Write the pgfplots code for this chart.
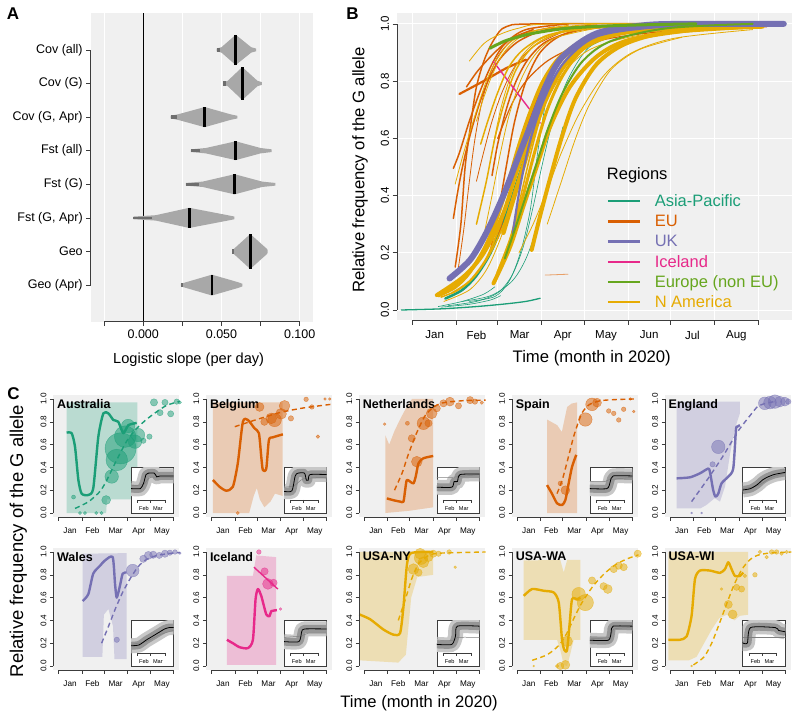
\documentclass[border=0pt]{standalone}
\usepackage{pgfplots}
\pgfplotsset{compat=1.18}
\usepackage{fontspec}
\setmainfont{Liberation Sans}
\definecolor{bgc}{RGB}{240,240,240}
\definecolor{cT}{HTML}{1B9E77}
\definecolor{cO}{HTML}{D95F02}
\definecolor{cU}{HTML}{7570B3}
\definecolor{cP}{HTML}{E7298A}
\definecolor{cG}{HTML}{66A61E}
\definecolor{cY}{HTML}{E6AB02}
\definecolor{vio}{RGB}{168,168,168}
\definecolor{viod}{RGB}{110,110,110}
\definecolor{axc}{RGB}{60,60,60}
\definecolor{bandl}{RGB}{200,200,200}
\definecolor{bandd}{RGB}{150,150,150}

\pgfplotsset{
  Rax/.style={scale only axis, clip=false, anchor=south west,
    axis background/.style={fill=bgc},
    axis x line=bottom, axis y line=left, axis line style={draw=none},
    tick align=outside, tick style={axc, line width=0.6pt},
    /pgf/number format/assume math mode=true},
  Bl/.style={forget plot, smooth, tension=0.5, line cap=round, line join=round},
  Cax/.style={Rax, width=126pt, height=122pt, xmin=-6.5, xmax=159.5, ymin=-0.035, ymax=1.035,
    xtick={0,31,60,91,121,152}, xticklabels={,,,,,},
    extra x ticks={15.5,45,75.5,106,136.5}, extra x tick labels={Jan,Feb,Mar,Apr,May},
    extra x tick style={major tick style={draw=none}},
    ytick={0,0.2,0.4,0.6,0.8,1}, yticklabels={0.0,0.2,0.4,0.6,0.8,1.0},
    yticklabel style={rotate=90, anchor=south},
    xticklabel style={yshift=-4pt},
    major tick length=3.5pt, tick style={axc, line width=0.5pt},
    tick label style={font=\fontsize{8.2}{10}\selectfont}},
  insetax/.style={scale only axis, anchor=south west, width=42.6pt, height=46pt,
    xmin=18, xmax=109.5, ymin=-0.571, ymax=1.07,
    axis background/.style={fill=white}, axis line style={draw=axc, line width=0.5pt},
    xtick=\empty, ytick=\empty},
  shade/.style={draw=none, fill opacity=0.25},
  sol/.style={line width=2.4pt, smooth, tension=0.4, line join=round},
  dsh/.style={line width=1.4pt, smooth, tension=0.4, dash pattern=on 5pt off 3.5pt},
  bub/.style={only marks, mark=*, scatter, scatter/use mapped color={draw=#1, fill=#1},
    fill opacity=0.5, draw opacity=0.6,
    visualization depends on={\thisrow{r} \as \rr},
    scatter/@pre marker code/.append style={/tikz/mark size=1.35*\rr}},
}
\newcommand{\Clines}{%
  \draw[axc, line width=0.5pt] (axis cs:0,-0.035) -- (axis cs:152,-0.035);
  \draw[axc, line width=0.5pt] (axis cs:-6.5,0) -- (axis cs:-6.5,1);}
\newcommand{\Ctitle}[1]{\node[anchor=north west, inner sep=0pt, font=\bfseries\fontsize{12.5}{14}\selectfont] at ([xshift=3.5pt,yshift=-4pt]rel axis cs:0,1) {#1};}
\newcommand{\Inset}[3]{%
\begin{axis}[insetax, at={#1}]
\addplot[bandl, line width=15pt, smooth, tension=0.4, line join=round] coordinates {#2};
\addplot[bandd, line width=8pt, smooth, tension=0.4, line join=round] coordinates {#2};
\addplot[gray, line width=0.5pt, smooth, tension=0.4] coordinates {#3};
\addplot[black, line width=0.8pt, smooth, tension=0.4] coordinates {#2};
\draw[axc, line width=0.4pt] (axis cs:31,-0.1) -- (axis cs:91,-0.1);
\draw[axc, line width=0.4pt] (axis cs:31,-0.1) -- (axis cs:31,-0.2);
\draw[axc, line width=0.4pt] (axis cs:60,-0.1) -- (axis cs:60,-0.2);
\draw[axc, line width=0.4pt] (axis cs:91,-0.1) -- (axis cs:91,-0.2);
\node[font=\fontsize{5.6}{6}\selectfont, inner sep=0pt] at (axis cs:45.5,-0.4) {Feb};
\node[font=\fontsize{5.6}{6}\selectfont, inner sep=0pt] at (axis cs:75.5,-0.4) {Mar};
\end{axis}}

\begin{document}
\begin{tikzpicture}
% ================= PANEL A =================
\begin{axis}[Rax, at={(90.7pt,-321.7pt)}, width=222.6pt, height=308.4pt,
  xmin=-0.0336, xmax=0.1087, ymin=-0.09, ymax=9.09,
  xtick={-0.025,0,0.025,0.05,0.075,0.1}, xticklabels={,0.000,,0.050,,0.100},
  ytick={1,2,3,4,5,6,7,8},
  yticklabels={Geo (Apr),Geo,{Fst (G, Apr)},Fst (G),Fst (all),{Cov (G, Apr)},Cov (G),Cov (all)},
  major tick length=4.5pt,
  xmajorgrids, major grid style={white, line width=0.9pt},
  tick label style={font=\fontsize{12.5}{15}\selectfont},
  xlabel={Logistic slope (per day)},
  xlabel style={font=\fontsize{14.6}{17}\selectfont, at={(axis description cs:0.44,-0.124)}, anchor=center}]
\addplot[black, line width=0.8pt] coordinates {(0,-0.09) (0,9.09)};
% violins
\addplot[fill=vio, draw=none] coordinates {(0.0469,7.96) (0.050,7.92) (0.0591,7.55) (0.069,7.92) (0.0721,7.96) (0.0721,8.04) (0.069,8.08) (0.0591,8.45) (0.050,8.08) (0.0469,8.04)} -- cycle;
\addplot[fill=vio, draw=none] coordinates {(0.0512,6.96) (0.054,6.92) (0.0633,6.51) (0.073,6.92) (0.0759,6.96) (0.0759,7.04) (0.073,7.08) (0.0633,7.49) (0.054,7.08) (0.0512,7.04)} -- cycle;
\addplot[fill=vio, draw=none] coordinates {(0.0175,5.96) (0.022,5.92) (0.0393,5.70) (0.056,5.92) (0.0601,5.96) (0.0601,6.04) (0.056,6.08) (0.0393,6.30) (0.022,6.08) (0.0175,6.04)} -- cycle;
\addplot[fill=vio, draw=none] coordinates {(0.0305,4.96) (0.040,4.92) (0.0591,4.72) (0.075,4.92) (0.0821,4.96) (0.0821,5.04) (0.075,5.08) (0.0591,5.28) (0.040,5.08) (0.0305,5.04)} -- cycle;
\addplot[fill=vio, draw=none] coordinates {(0.0273,3.96) (0.038,3.92) (0.0584,3.70) (0.076,3.92) (0.0844,3.96) (0.0844,4.04) (0.076,4.08) (0.0584,4.30) (0.038,4.08) (0.0273,4.04)} -- cycle;
\addplot[fill=vio, draw=none] coordinates {(-0.0064,2.96) (0.008,2.92) (0.0294,2.70) (0.054,2.92) (0.0582,2.96) (0.0582,3.04) (0.054,3.08) (0.0294,3.30) (0.008,3.08) (-0.0064,3.04)} -- cycle;
\addplot[fill=vio, draw=none] coordinates {(0.0569,1.96) (0.058,1.92) (0.0684,1.48) (0.079,1.92) (0.0795,1.96) (0.0795,2.04) (0.079,2.08) (0.0684,2.52) (0.058,2.08) (0.0569,2.04)} -- cycle;
\addplot[fill=vio, draw=none] coordinates {(0.0241,0.96) (0.027,0.92) (0.0439,0.69) (0.061,0.92) (0.0633,0.96) (0.0633,1.04) (0.061,1.08) (0.0439,1.31) (0.027,1.08) (0.0241,1.04)} -- cycle;
% dark tails
\addplot[fill=viod, draw=none] coordinates {(0.0469,7.94) (0.0490,7.94) (0.0490,8.06) (0.0469,8.06)} -- cycle;
\addplot[fill=viod, draw=none] coordinates {(0.0512,6.94) (0.0532,6.94) (0.0532,7.06) (0.0512,7.06)} -- cycle;
\addplot[fill=viod, draw=none] coordinates {(0.0175,5.94) (0.0213,5.94) (0.0213,6.06) (0.0175,6.06)} -- cycle;
\addplot[fill=viod, draw=none] coordinates {(0.0305,4.95) (0.0363,4.95) (0.0363,5.05) (0.0305,5.05)} -- cycle;
\addplot[fill=viod, draw=none] coordinates {(0.0273,3.96) (0.0356,3.96) (0.0356,4.04) (0.0273,4.04)} -- cycle;
\addplot[fill=viod, draw=none] coordinates {(-0.0064,2.97) (0.0053,2.97) (0.0053,3.03) (-0.0064,3.03)} -- cycle;
\addplot[fill=viod, draw=none] coordinates {(0.0569,1.94) (0.0579,1.94) (0.0579,2.06) (0.0569,2.06)} -- cycle;
\addplot[fill=viod, draw=none] coordinates {(0.0241,0.95) (0.0251,0.95) (0.0251,1.05) (0.0241,1.05)} -- cycle;
% medians
\addplot[black, line width=2.6pt] coordinates {(0.0591,7.55) (0.0591,8.45)};
\addplot[black, line width=2.6pt] coordinates {(0.0633,6.51) (0.0633,7.49)};
\addplot[black, line width=2.6pt] coordinates {(0.0393,5.70) (0.0393,6.30)};
\addplot[black, line width=2.6pt] coordinates {(0.0591,4.72) (0.0591,5.28)};
\addplot[black, line width=2.6pt] coordinates {(0.0584,3.70) (0.0584,4.30)};
\addplot[black, line width=2.6pt] coordinates {(0.0294,2.70) (0.0294,3.30)};
\addplot[black, line width=2.6pt] coordinates {(0.0684,1.48) (0.0684,2.52)};
\addplot[black, line width=2.6pt] coordinates {(0.0439,0.69) (0.0439,1.31)};
\draw[axc, line width=0.6pt] (axis cs:-0.025,-0.09) -- (axis cs:0.1,-0.09);
\draw[axc, line width=0.6pt] (axis cs:-0.0336,1) -- (axis cs:-0.0336,8);
\end{axis}

% ================= PANEL B =================
\begin{axis}[Rax, at={(397pt,-320pt)}, width=395pt, height=307pt,
  xmin=-11.1, xmax=267.8, ymin=-0.035, ymax=1.038,
  xtick={0,31,60,91,121,152,182,213,244}, xticklabels={,,,,,,,,},
  extra x ticks={15.5,45,75.5,106,136.5,167,197.5,228.5},
  extra x tick labels={Jan,Feb,Mar,Apr,May,Jun,Jul,Aug},
  extra x tick style={major tick style={draw=none}, grid=none},
  ytick={0,0.2,0.4,0.6,0.8,1}, yticklabels={0.0,0.2,0.4,0.6,0.8,1.0},
  yticklabel style={rotate=90, anchor=south},
  xticklabel style={yshift=-3pt},
  grid=major, major grid style={white, line width=0.9pt},
  major tick length=4.5pt,
  tick label style={font=\fontsize{11.5}{14}\selectfont},
  xlabel={Time (month in 2020)}, ylabel={Relative frequency of the G allele},
  xlabel style={font=\fontsize{16.7}{20}\selectfont, at={(axis description cs:0.493,-0.1248)}, anchor=center},
  ylabel style={font=\fontsize{16.7}{20}\selectfont, at={(axis description cs:-0.0937,0.4886)}, anchor=center},
  legend style={draw=none, fill=none, at={(axis description cs:0.531,0.409)}, anchor=north west,
    inner sep=0pt, outer sep=0pt, row sep=6.7pt, font=\fontsize{16.5}{19}\selectfont,
    nodes={inner sep=0pt},
    /tikz/every even column/.append style={text height=12pt, text depth=3.5pt},
    /tikz/every odd column/.append style={column sep=14pt}},
  legend cell align=left,
  legend image code/.code={\draw[#1] (0pt,0pt) -- (31.6pt,0pt);}]
% Asia-Pacific
\addplot[Bl, cT, line width=1.3pt] coordinates {(-8,0.0) (20,0.004) (45,0.012) (65,0.021) (80,0.03) (90,0.041)};
\addplot[Bl, cT, line width=0.6pt] coordinates {(35,0.03) (55,0.05) (70,0.1) (80,0.18) (90,0.32) (98,0.47) (106,0.64)};
\addplot[Bl, cT, line width=0.6pt] coordinates {(40,0.03) (58,0.047) (68,0.1) (76,0.2) (83,0.35) (88.5,0.56) (95,0.75) (105,0.88) (125,0.96) (160,0.99)};
\addplot[Bl, cT, line width=0.6pt] coordinates {(18,0.012) (35,0.03) (50,0.055) (58,0.081)};
\addplot[Bl, cT, line width=0.6pt] coordinates {(20,0.01) (40,0.02) (55,0.035) (62,0.05)};
\addplot[Bl, cT, line width=0.6pt] coordinates {(25,0.015) (45,0.03) (60,0.06) (70,0.12) (78,0.22) (85,0.36) (92,0.52) (100,0.68) (110,0.81) (125,0.92) (150,0.97)};
\addplot[Bl, cT, line width=2.5pt] coordinates {(23,0.04) (35,0.07) (45,0.12) (55,0.2) (65,0.32) (75,0.47) (85,0.62) (95,0.75) (110,0.87) (130,0.94) (170,0.985) (263,1.0)};
% EU
\addplot[Bl, cO, line width=1.5pt] coordinates {(30,0.15) (34,0.3) (37,0.5) (41,0.65) (45,0.78) (51,0.88) (58,0.95) (66,0.99) (90,1.0) (250,1.0)};
\addplot[Bl, cO, line width=1.5pt] coordinates {(28.7,0.32) (32,0.42) (36,0.52) (41,0.62) (47,0.72) (54,0.81) (62,0.88) (75,0.94) (95,0.98) (130,0.995)};
\addplot[Bl, cO, line width=2.2pt] coordinates {(33,0.755) (50,0.80) (66,0.845) (80,0.875)};
\addplot[Bl, cO, line width=1.5pt] coordinates {(28.7,0.495) (33,0.55) (40,0.66) (48,0.77) (56,0.86) (65,0.93) (80,0.98) (110,1.0)};
\addplot[Bl, cO, line width=1.5pt] coordinates {(55,0.21) (60,0.33) (66,0.5) (72,0.66) (80,0.8) (90,0.9) (105,0.96) (130,0.99) (170,1.0)};
\addplot[Bl, cO, line width=1.5pt] coordinates {(56,0.47) (60,0.58) (66,0.7) (73,0.8) (82,0.88) (95,0.94) (120,0.98) (160,0.995)};
\addplot[Bl, cO!60, line width=0.8pt] coordinates {(93.5,0.122) (109.6,0.125)};
\addplot[Bl, cO, line width=1.5pt] coordinates {(60,0.25) (68,0.4) (76,0.56) (85,0.7) (95,0.81) (110,0.9) (140,0.96) (200,0.985) (240,0.99)};
\addplot[Bl, cO, line width=1.2pt] coordinates {(60,0.6) (70,0.72) (80,0.8) (95,0.87) (115,0.92) (140,0.95) (170,0.97) (210,0.985) (250,0.99)};
\addplot[Bl, cO, line width=0.8pt] coordinates {(32,0.14) (36,0.28) (40,0.45) (44,0.6) (49,0.73) (55,0.83) (62,0.9) (75,0.96) (100,0.99)};
\addplot[Bl, cO, line width=0.8pt] coordinates {(45,0.45) (50,0.55) (56,0.66) (63,0.76) (72,0.85) (85,0.92) (105,0.97)};
\addplot[Bl, cO, line width=1.5pt] coordinates {(38,0.78) (45,0.83) (52,0.87) (60,0.91) (70,0.95) (85,0.98)};
% Iceland
\addplot[Bl, cP, line width=1.4pt] coordinates {(57,0.868) (90,0.653)};
% N America
\addplot[Bl, cY, line width=4pt] coordinates {(17,0.052) (36,0.117) (50,0.198) (64,0.338) (73,0.478) (83,0.618) (95,0.758) (111,0.886) (130,0.95) (177,0.988) (247,0.998)};
\addplot[Bl, cY, line width=4pt] coordinates {(57,0.093) (68.7,0.22) (78,0.36) (87.5,0.5) (97,0.64) (111,0.78) (130,0.886) (153,0.944) (200,0.98) (247,0.99)};
\addplot[Bl, cY, line width=4pt] coordinates {(84,0.21) (90,0.33) (97,0.46) (105,0.6) (115,0.74) (130,0.86) (150,0.93) (180,0.97) (240,0.99)};
\addplot[Bl, cY, line width=0.8pt] coordinates {(95,0.3) (105,0.45) (115,0.6) (125,0.72) (140,0.84) (160,0.91) (190,0.953)};
\addplot[Bl, cY, line width=0.8pt] coordinates {(30,0.44) (36,0.55) (44,0.68) (52,0.8) (60,0.88) (70,0.94) (90,0.98) (130,1.0)};
\addplot[Bl, cY, line width=1.5pt] coordinates {(58,0.094) (66,0.2) (74,0.35) (82,0.52) (90,0.67) (100,0.8) (115,0.9) (140,0.96) (190,0.99)};
\addplot[Bl, cY, line width=3.5pt] coordinates {(18,0.05) (30,0.08) (40,0.13) (50,0.21) (58,0.3) (66,0.42) (74,0.56) (82,0.68) (92,0.8) (105,0.89) (125,0.95) (160,0.985) (250,1.0)};
\addplot[Bl, cY, line width=0.8pt] coordinates {(22,0.03) (40,0.07) (52,0.14) (62,0.25) (72,0.4) (82,0.56) (92,0.7) (105,0.82) (125,0.91) (160,0.96) (220,0.985)};
\addplot[Bl, cY, line width=0.8pt] coordinates {(57,0.58) (62,0.7) (68,0.8) (76,0.88) (88,0.94) (110,0.98) (150,0.995)};
\addplot[Bl, cY, line width=1.5pt] coordinates {(45,0.3) (52,0.45) (58,0.6) (65,0.73) (73,0.84) (85,0.92) (105,0.97) (150,0.995)};
\addplot[Bl, cY, line width=0.8pt] coordinates {(75,0.2) (85,0.3) (95,0.42) (105,0.55) (118,0.69) (135,0.82) (155,0.9) (185,0.95) (240,0.98)};
\addplot[Bl, cY, line width=2pt] coordinates {(28,0.06) (40,0.1) (52,0.18) (62,0.3) (70,0.43) (78,0.56) (86,0.68) (96,0.8) (110,0.9) (130,0.95) (170,0.985) (240,0.995)};
\addplot[Bl, cY, line width=4.5pt] coordinates {(64,0.27) (70,0.37) (78,0.5) (86,0.63) (96,0.76) (108,0.86) (125,0.93) (150,0.97) (200,0.99) (255,1.0)};
\addplot[Bl, cY, line width=0.8pt] coordinates {(51,0.28) (56,0.4) (62,0.55) (68,0.68) (76,0.8) (86,0.89) (100,0.95) (130,0.985)};
\addplot[Bl, cY, line width=0.8pt] coordinates {(45,0.66) (50,0.74) (56,0.82) (63,0.89) (72,0.94) (85,0.975) (110,0.995)};
\addplot[Bl, cY, line width=0.8pt] coordinates {(40,0.87) (50,0.93) (60,0.96) (75,0.985) (100,1.0) (240,1.0)};
\addplot[Bl, cY, line width=3pt] coordinates {(60,0.13) (70,0.26) (78,0.4) (86,0.55) (95,0.7) (106,0.82) (120,0.91) (140,0.96) (180,0.985) (245,0.995)};
\addplot[Bl, cY, line width=1.5pt] coordinates {(48,0.58) (53,0.66) (60,0.76) (68,0.85) (78,0.91) (95,0.96) (125,0.99)};
\addplot[Bl, cY, line width=1.5pt] coordinates {(20,0.045) (32,0.07) (44,0.12) (55,0.2) (65,0.31) (74,0.45) (82,0.58) (92,0.72) (104,0.84) (120,0.92) (150,0.97) (200,0.99)};
\addplot[Bl, cY, line width=4pt] coordinates {(200,0.995) (262,1.0)};
% UK
\addplot[Bl, cU, line width=6pt] coordinates {(26,0.11) (40.5,0.175) (52,0.27) (64,0.40) (73.4,0.52) (82.8,0.64) (94.6,0.79) (106,0.886) (130,0.967) (165,0.996) (200,1.0) (262,1.0)};
\addplot[Bl, cU, line width=2.2pt] coordinates {(70.6,0.268) (75.8,0.43) (82.8,0.59) (92.2,0.73) (106,0.86) (130,0.956) (177,0.99) (247,1.0)};
% Europe non EU
\addplot[Bl, cG, line width=3pt] coordinates {(54.6,0.915) (65,0.94) (75,0.955) (86,0.968) (110,0.985) (150,0.995) (200,1.0)};
\addplot[Bl, cG, line width=2pt] coordinates {(65,0.18) (72,0.28) (80,0.4) (88,0.52) (96,0.64) (106,0.76) (120,0.87) (140,0.94) (180,0.985) (240,1.0)};
% legend
\addlegendimage{cT, line width=2.4pt}\addlegendentry{\textcolor{cT}{Asia-Pacific}}
\addlegendimage{cO, line width=2.4pt}\addlegendentry{\textcolor{cO}{EU}}
\addlegendimage{cU, line width=2.4pt}\addlegendentry{\textcolor{cU}{UK}}
\addlegendimage{cP, line width=2.4pt}\addlegendentry{\textcolor{cP}{Iceland}}
\addlegendimage{cG, line width=2.4pt}\addlegendentry{\textcolor{cG}{Europe (non EU)}}
\addlegendimage{cY, line width=2.4pt}\addlegendentry{\textcolor{cY}{N America}}
\node[anchor=west, inner sep=0pt, font=\fontsize{16.5}{19}\selectfont] at (axis description cs:0.531,0.4715) {Regions};
\draw[axc, line width=0.6pt] (axis cs:0,-0.035) -- (axis cs:244,-0.035);
\draw[axc, line width=0.6pt] (axis cs:-11.1,0) -- (axis cs:-11.1,1);
\end{axis}

% ================= PANEL C, row 1 =================
% Australia
\begin{axis}[Cax, at={(53.4pt,-517pt)}]
\addplot[shade, fill=cT] coordinates {(11,0.97) (104,0.97) (104,0.12) (64,0.12) (63,0.0) (11,0.0)} -- cycle;
\addplot[sol, cT] coordinates {(11,0.705) (17.6,0.699) (22,0.58) (26.4,0.29) (30.7,0.17) (39.5,0.158) (46,0.216) (52.7,0.67) (59.3,0.874) (65.9,0.874) (72.5,0.816) (79,0.80) (85.6,0.70) (92.2,0.77) (103.2,0.79)};
\addplot[dsh, cT] coordinates {(22,0.04) (40,0.1) (55,0.19) (64,0.29) (75,0.44) (90,0.63) (103,0.74) (116,0.82) (130,0.89) (143,0.945) (160,0.98)};
\addplot[bub=cT] table[row sep=\\] {x y r\\ 20 0.14 1.5\\ 28.5 0 1.2\\ 35 0 1.2\\ 50 0 1.2\\ 57 0 1.2\\ 63 0.114 3.3\\ 70.3 0.32 5\\ 77 0.465 8\\ 82 0.567 11.5\\ 88 0.67 8\\ 92 0.763 5\\ 101 0.626 5\\ 105 0.684 5\\ 112 0.634 2\\ 120 0.67 2\\ 126 0.97 2.7\\ 134 0.88 2.3\\ 140.5 0.97 2.3\\ 148 0.87 2.3\\ 156 0.977 2\\ 160 0.97 1.3\\};
\Clines
\Ctitle{Australia}
\end{axis}
\Inset{(131.1pt,-513pt)}{(18,0.3) (38,0.3) (45,0.5) (50,0.8) (55,0.85) (68,0.85) (73,0.72) (80,0.75) (109.5,0.75)}{(18,0.4) (45,0.45) (60,0.7) (109.5,0.7)}

% Belgium
\begin{axis}[Cax, at={(206.3pt,-517pt)}]
\addplot[shade, fill=cO] coordinates {(2,0.97) (94,0.97) (94,0.15) (84,0.17) (78,0.10) (70,0.05) (64,0.12) (60,0.22) (56,0.15) (50,0.0) (2,0.0)} -- cycle;
\addplot[sol, cO] coordinates {(2.2,0.29) (11,0.23) (19.8,0.196) (28.5,0.23) (35,0.436) (41.7,0.8) (48.3,0.816) (57,0.743) (62.8,0.7) (65.9,0.494) (68,0.377) (72.5,0.39) (76,0.64) (81.3,0.664) (94.4,0.69)};
\addplot[dsh, cO] coordinates {(31,0.757) (60,0.82) (90,0.88) (120,0.92) (160,0.955)};
\addplot[bub=cO] table[row sep=\\] {x y r\\ 35 0 1.2\\ 63.7 0.93 3.3\\ 70 0.8 2.7\\ 79 0.83 4\\ 83.5 0.816 5\\ 92 0.87 4\\ 96.6 0.94 4\\ 105 0.83 2\\ 125 0.997 1.7\\ 132.6 0.93 1.7\\ 140.5 0.67 1.3\\ 150 1.0 1\\ 156 1.0 1\\};
\Clines
\Ctitle{Belgium}
\end{axis}
\Inset{(284pt,-513pt)}{(18,0.2) (35,0.22) (42,0.75) (48,0.85) (62,0.85) (66,0.6) (70,0.6) (74,0.8) (109.5,0.8)}{(18,0.35) (40,0.4) (60,0.65) (109.5,0.7)}

% Netherlands
\begin{axis}[Cax, at={(359.2pt,-517pt)}]
\addplot[shade, fill=cO] coordinates {(28,0.68) (33,0.6) (40,0.72) (48,0.83) (56,0.93) (63,1.0) (91,1.0) (91,0.05) (60,0.02) (28,0.0)} -- cycle;
\addplot[sol, cO] coordinates {(29.9,0.128) (40,0.11) (47.4,0.1) (51.8,0.1) (54,0.2) (56.2,0.29) (60.6,0.275) (65,0.26) (68,0.32) (71.6,0.436) (78,0.48) (91,0.5)};
\addplot[dsh, cO] coordinates {(40,0.2) (50,0.35) (58,0.51) (69,0.7) (82,0.87) (100,0.96) (130,0.985) (160,0.99)};
\addplot[bub=cO] table[row sep=\\] {x y r\\ 27 0.78 1\\ 57 0.787 1.5\\ 62.8 0.655 2.7\\ 69.4 0.45 4\\ 78.2 0.787 4.7\\ 84.8 0.787 2.7\\ 89 0.874 4\\ 95.7 0.918 2.7\\ 104.5 0.962 2.7\\ 113 0.977 3.3\\ 124.3 0.94 2.3\\ 139.6 0.99 2.7\\ 146 0.977 2\\ 155 0.968 1.3\\};
\Clines
\Ctitle{Netherlands}
\end{axis}
\Inset{(436.9pt,-513pt)}{(18,0.35) (50,0.35) (55,0.55) (62,0.55) (68,0.8) (109.5,0.82)}{(18,0.7) (50,0.7) (60,0.72) (109.5,0.8)}

% Spain
\begin{axis}[Cax, at={(512.1pt,-517pt)}]
\addplot[shade, fill=cO] coordinates {(39.5,0.82) (53,0.77) (59,0.71) (66,0.93) (72,0.96) (79,0.97) (79,0.0) (39.5,0.0)} -- cycle;
\addplot[sol, cO] coordinates {(39.5,0.245) (46,0.17) (52.7,0.085) (59.3,0.07) (63.7,0.114) (68,0.26) (72.5,0.406) (78,0.51)};
\addplot[dsh, cO] coordinates {(52.7,0.17) (60,0.3) (68,0.5) (75,0.68) (85,0.87) (95,0.95) (110,0.985) (130,0.995) (154,1.0)};
\addplot[bub=cO] table[row sep=\\] {x y r\\ 57 0.26 1.7\\ 63.7 0.2 3.3\\ 90 0.82 5\\ 98.8 0.953 4.7\\ 105.4 0.968 3.3\\ 120.8 0.895 1.7\\ 127.4 0.874 1.7\\ 134 0.816 1.7\\ 140.5 0.91 1.7\\ 149.3 1.0 1\\ 153.7 0.89 1\\};
\Clines
\Ctitle{Spain}
\end{axis}
\Inset{(589.8pt,-513pt)}{(18,0.3) (55,0.3) (62,0.55) (68,0.75) (109.5,0.75)}{(18,0.55) (50,0.55) (60,0.62) (109.5,0.7)}

% England
\begin{axis}[Cax, at={(665pt,-517pt)}]
\addplot[shade, fill=cU] coordinates {(8.8,0.977) (92,0.977) (92,0.87) (88,0.79) (83.4,0.67) (79,0.51) (72.5,0.23) (66,0.1) (59,0.13) (48,0.07) (40,0.04) (8.8,0.04)} -- cycle;
\addplot[sol, cU] coordinates {(8.8,0.304) (26.4,0.313) (39.5,0.348) (50.5,0.39) (52.7,0.36) (57,0.2) (60,0.143) (63.7,0.17) (68,0.26) (76.9,0.32) (83.4,0.39) (87,0.73) (88.7,0.757) (92.2,0.77)};
\addplot[dsh, cU] coordinates {(28.5,0.1) (50,0.3) (70,0.5) (90,0.72) (105,0.85) (115,0.93) (125,0.96) (140,0.98)};
\addplot[bub=cU] table[row sep=\\] {x y r\\ 28.5 0 0.7\\ 41.7 0 0.7\\ 56.2 0.427 2\\ 63.7 0.58 5\\ 125 0.962 4.7\\ 131.8 0.968 4.7\\ 138.3 0.977 5\\ 145 0.977 4\\ 151.5 0.977 3.3\\ 156 0.977 2\\};
\Clines
\Ctitle{England}
\end{axis}
\Inset{(742.7pt,-513pt)}{(18,0.25) (35,0.3) (50,0.45) (60,0.6) (70,0.7) (85,0.8) (100,0.85) (109.5,0.88)}{(18,0.3) (50,0.4) (80,0.7) (109.5,0.85)}

% ================= PANEL C, row 2 =================
% Wales
\begin{axis}[Cax, at={(53.4pt,-670pt)}]
\addplot[shade, fill=cU] coordinates {(32,0.985) (90,0.99) (90,0.06) (74,0.06) (72,0.35) (66,0.5) (60,0.45) (58,0.08) (32,0.08)} -- cycle;
\addplot[sol, cU] coordinates {(32,0.57) (39.5,0.63) (46,0.81) (55,0.88) (61.5,0.926) (71.6,0.955) (74.7,0.72) (76.9,0.6) (81.2,0.704) (84.8,0.81) (90,0.82)};
\addplot[dsh, cU] coordinates {(57,0.2) (65,0.33) (75,0.5) (85,0.65) (95,0.77) (105,0.87) (115,0.93) (130,0.97) (150,0.99) (160,0.995)};
\addplot[bub=cU] table[row sep=\\] {x y r\\ 77 0.23 2\\ 98 0.837 4.7\\ 112 0.94 2.7\\ 118.6 0.97 3\\ 125 0.976 2.7\\ 133 0.97 2.3\\ 140.5 0.985 2.7\\ 147 0.994 2\\ 153.7 1.0 1.7\\ 160 0.99 1\\};
\Clines
\Ctitle{Wales}
\end{axis}
\Inset{(131.1pt,-666pt)}{(18,0.15) (35,0.18) (50,0.35) (60,0.45) (75,0.6) (90,0.75) (100,0.8) (109.5,0.8)}{(18,0.2) (50,0.3) (80,0.55) (109.5,0.7)}

% Iceland
\begin{axis}[Cax, at={(206.3pt,-670pt)}]
\addplot[shade, fill=cP] coordinates {(20.6,0.79) (54.9,0.79) (59.3,0.97) (85.6,0.955) (85.6,0.01) (20.6,0.01)} -- cycle;
\addplot[sol, cP] coordinates {(20.6,0.23) (28.5,0.2) (37.3,0.165) (48.3,0.157) (54.9,0.23) (58.4,0.586) (61.5,0.675) (65.9,0.615) (72.5,0.453) (76.9,0.438) (79,0.48) (86.5,0.49)};
\addplot[cP, line width=1.4pt] coordinates {(56.2,0.867) (87.8,0.675)};
\addplot[bub=cP] table[row sep=\\] {x y r\\ 62.8 1.0 1.7\\ 70.3 0.83 2.7\\ 74.7 0.72 4\\ 82.1 0.73 2.7\\ 91.3 0.5 1\\};
\Clines
\Ctitle{Iceland}
\end{axis}
\Inset{(284pt,-666pt)}{(18,0.3) (50,0.3) (56,0.65) (62,0.75) (109.5,0.75)}{(18,0.45) (55,0.5) (70,0.6) (109.5,0.6)}

% USA-NY
\begin{axis}[Cax, at={(359.2pt,-670pt)}]
\addplot[shade, fill=cY] coordinates {(-6.5,1.0) (91,1.0) (91,0.8) (70,0.78) (62,0.6) (55,0.1) (45,0.03) (-6.5,0.05)} -- cycle;
\addplot[sol, cY] coordinates {(-6.5,0.453) (7.9,0.41) (25.4,0.32) (38.6,0.275) (47.4,0.29) (51.9,0.527) (56.2,0.88) (60.6,0.985) (73.8,1.0) (91.3,1.0)};
\addplot[dsh, cY] coordinates {(45,0.4) (55,0.6) (63,0.77) (72,0.9) (85,0.97) (100,0.99) (160,1.0)};
\addplot[bub=cY] table[row sep=\\] {x y r\\ 65 0.85 4\\ 71.6 0.82 2.7\\ 75 0.95 5\\ 73.8 0.985 4\\ 78 0.91 4\\ 84.8 0.955 3.3\\ 91 0.985 2.7\\ 98 0.985 2\\ 112 1.0 1.7\\ 120 0.867 1\\};
\Clines
\Ctitle{USA-NY}
\end{axis}
\Inset{(436.9pt,-666pt)}{(18,0.2) (50,0.2) (58,0.5) (62,0.85) (109.5,0.85)}{(18,0.35) (55,0.35) (62,0.45) (109.5,0.45)}

% USA-WA
\begin{axis}[Cax, at={(512.1pt,-670pt)}]
\addplot[shade, fill=cY] coordinates {(8.8,0.926) (57,0.93) (61.5,0.82) (66,0.93) (83.4,0.93) (83.4,0.23) (74.7,0.23) (70.3,0.11) (66,0.0) (61.5,0.01) (57,0.14) (52.7,0.23) (8.8,0.23)} -- cycle;
\addplot[sol, cY] coordinates {(8.8,0.615) (19.8,0.675) (35.1,0.66) (48.3,0.645) (55,0.556) (59.3,0.23) (62.4,0.14) (65.9,0.14) (69.4,0.38) (72.5,0.586) (79,0.586) (83.4,0.6)};
\addplot[dsh, cY] coordinates {(20,0.05) (40,0.1) (55,0.18) (65,0.28) (75,0.42) (85,0.55) (100,0.7) (115,0.81) (130,0.89) (145,0.94) (160,0.975)};
\addplot[bub=cY] table[row sep=\\] {x y r\\ 22 0 0.7\\ 52.7 0 1.3\\ 57 0 2.7\\ 63.7 0.01 3.3\\ 65.9 0.216 4\\ 81.2 0.63 5\\ 90 0.556 6\\ 98.8 0.75 2.7\\ 114 0.7 2.7\\ 119.5 0.675 3.3\\ 127.4 0.85 2.7\\ 134 0.88 2.7\\ 140.5 0.867 2.7\\ 159 0.985 2.7\\};
\Clines
\Ctitle{USA-WA}
\end{axis}
\Inset{(589.8pt,-666pt)}{(18,0.35) (58,0.35) (64,0.65) (68,0.85) (109.5,0.85)}{(18,0.4) (60,0.45) (70,0.75) (109.5,0.8)}

% USA-WI
\begin{axis}[Cax, at={(665pt,-670pt)}]
\addplot[shade, fill=cY] coordinates {(-2,1.0) (103,1.0) (103,0.45) (92,0.44) (85,0.4) (75,0.45) (65,0.42) (55,0.32) (45,0.2) (35,0.08) (25,0.05) (-2,0.05)} -- cycle;
\addplot[sol, cY] coordinates {(-2,0.23) (13,0.23) (22,0.26) (28.5,0.44) (33,0.763) (39.5,0.837) (52.7,0.837) (66,0.817) (72.5,0.85) (76.9,0.91) (81.2,0.85) (85.6,0.79) (92.2,0.79) (96.6,0.82)};
\addplot[dsh, cY] coordinates {(31,0.01) (45,0.08) (55,0.2) (65,0.37) (75,0.55) (85,0.72) (95,0.85) (105,0.93) (115,0.97) (130,0.99) (160,1.0)};
\addplot[bub=cY] table[row sep=\\] {x y r\\ 28.5 0 0.7\\ 68 0.675 1\\ 76.9 0.54 3\\ 82.6 0.453 3.3\\ 87.8 0.69 2.3\\ 94.4 0.675 2.3\\ 98.8 0.79 1.3\\ 112 0.8 1.7\\ 118.6 1.0 1.3\\ 127.4 0.955 1.3\\ 134 1.0 1.7\\ 140.5 1.0 1.7\\ 147 0.985 1.3\\ 153.7 1.0 1.3\\};
\Clines
\Ctitle{USA-WI}
\end{axis}
\Inset{(742.7pt,-666pt)}{(18,0.25) (28,0.25) (35,0.8) (88,0.8) (95,0.7) (109.5,0.65)}{(18,0.45) (60,0.45) (109.5,0.45)}

% ===== global labels =====
\node[rotate=90, font=\fontsize{18.5}{22}\selectfont] at (18.3pt,-541pt) {Relative frequency of the G allele};
\node[font=\fontsize{16.6}{20}\selectfont] at (419pt,-703pt) {Time (month in 2020)};
\node[font=\bfseries\fontsize{17}{20}\selectfont] at (13pt,-14pt) {A};
\node[font=\bfseries\fontsize{17}{20}\selectfont] at (352.5pt,-14pt) {B};
\node[font=\bfseries\fontsize{17}{20}\selectfont] at (13.5pt,-393.5pt) {C};
\pgfresetboundingbox
\path[use as bounding box] (0pt,0pt) rectangle (800pt,-719pt);
\end{tikzpicture}
\end{document}
